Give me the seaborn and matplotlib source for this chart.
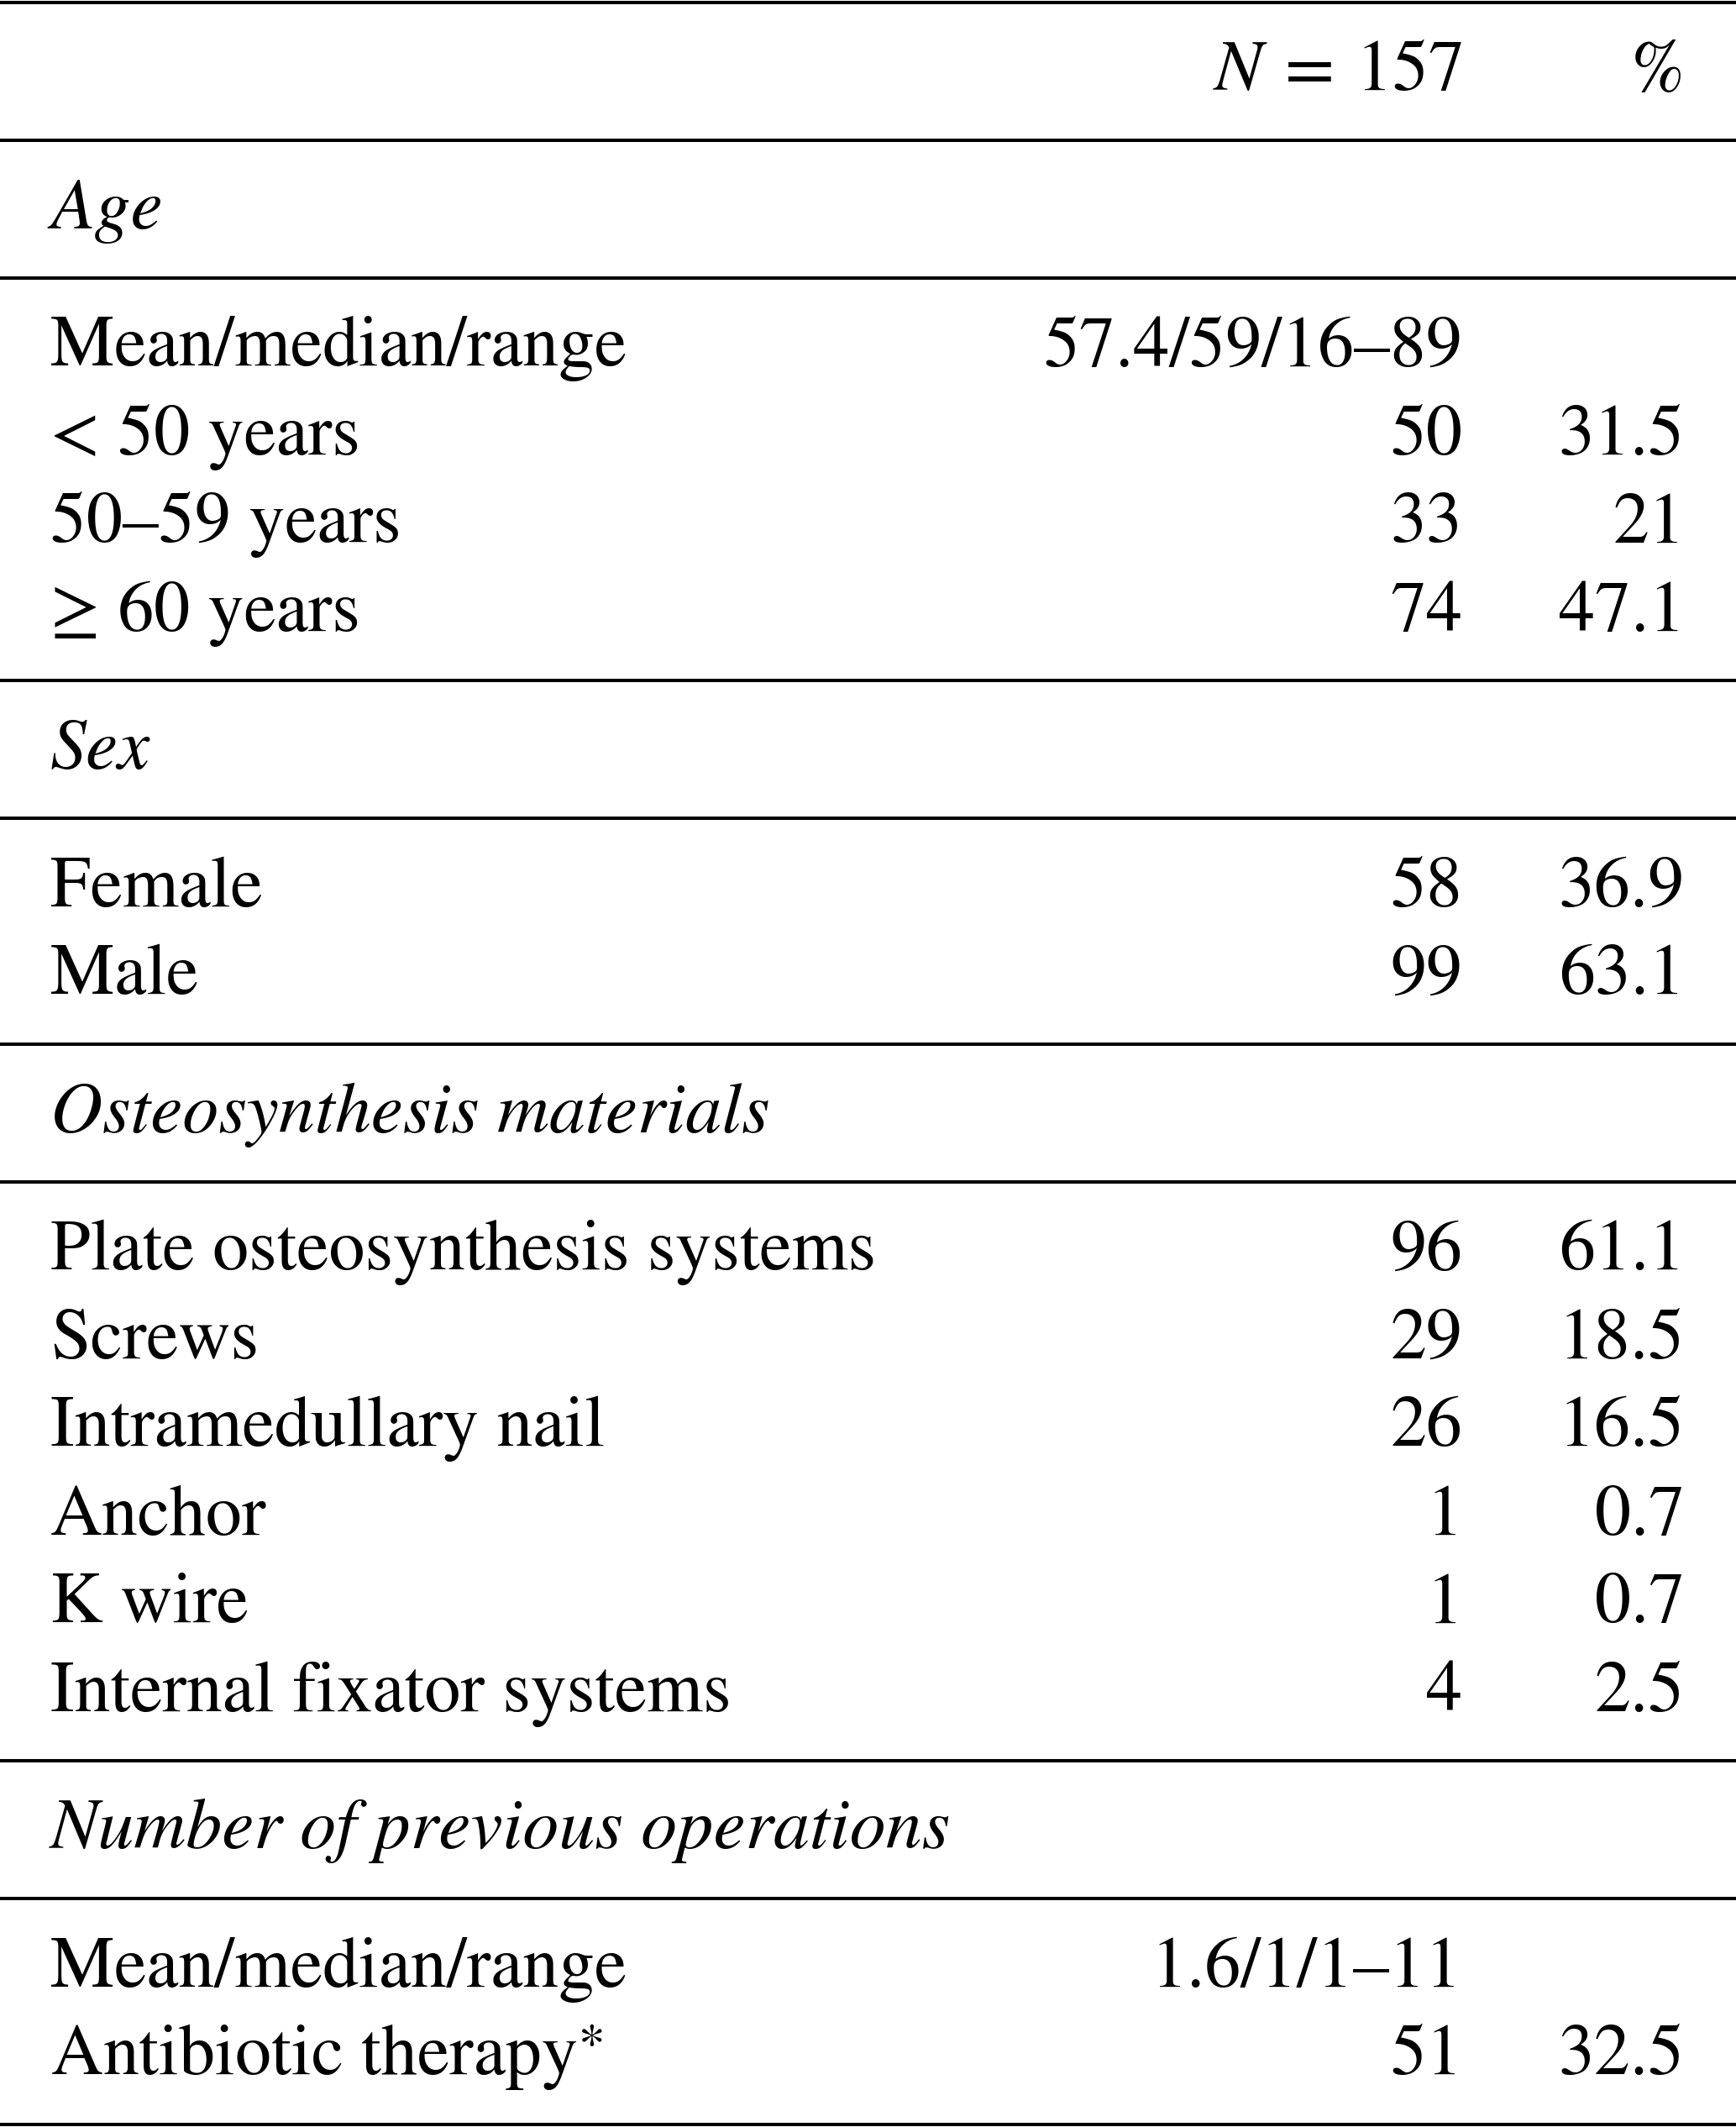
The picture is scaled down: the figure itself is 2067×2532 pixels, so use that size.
import matplotlib
matplotlib.use("Agg")
import matplotlib.pyplot as plt
import seaborn as sns

# ---- data ----
col_headers = [r"$N\:=\:157$", "%"]
sections = ["Age", "Sex", "Osteosynthesis materials", "Number of previous operations"]
row_labels = [
    ["Mean/median/range", "< 50 years", "50\u201359 years", "\u2265 60 years"],
    ["Female", "Male"],
    ["Plate osteosynthesis systems", "Screws", "Intramedullary nail", "Anchor",
     "K wire", "Internal fixator systems"],
    ["Mean/median/range", r"Antibiotic therapy$^{\ast}$"],
]
n_values = [
    ["57.4/59/16\u201389", "50", "33", "74"],
    ["58", "99"],
    ["96", "29", "26", "1", "1", "4"],
    ["1.6/1/1\u201311", "51"],
]
pct_values = [
    ["", "31.5", "21", "47.1"],
    ["36.9", "63.1"],
    ["61.1", "18.5", "16.5", "0.7", "0.7", "2.5"],
    ["", "32.5"],
]

# ---- style ----
sns.set_theme(style="white")
plt.rcParams["font.family"] = ["STIXGeneral", "Liberation Serif", "DejaVu Serif"]
plt.rcParams["mathtext.fontset"] = "stix"

W, H = 2067, 2532
fig = plt.figure(figsize=(W / 100, H / 100), dpi=100)
ax = fig.add_axes([0, 0, 1, 1])
ax.set_xlim(0, W)
ax.set_ylim(H, 0)
ax.axis("off")

FS = 61.8
LW = 2.9
x_left, x_n, x_pct = 60, 1741, 2006
line_to_base = 104.5
base_to_line = 59.5
row_step = 105.0

y = 3.0
ax.axhline(y, color="black", lw=LW)

def txt(x, yb, s, ha="left", style="normal"):
    ax.text(x, yb, s, ha=ha, va="baseline", fontsize=FS, fontstyle=style, color="black")

# header
yb = y + line_to_base
txt(x_n, yb, col_headers[0], ha="right")
txt(x_pct, yb, col_headers[1], ha="right")
y = yb + base_to_line
ax.axhline(y, color="black", lw=LW)

for sec, labels, nv, pv in zip(sections, row_labels, n_values, pct_values):
    yb = y + line_to_base
    txt(x_left, yb, sec, style="italic")
    y = yb + base_to_line
    ax.axhline(y, color="black", lw=LW)
    yb = y + line_to_base
    for i, (lab, n, p) in enumerate(zip(labels, nv, pv)):
        yy = yb + i * row_step
        txt(x_left, yy, lab)
        txt(x_n, yy, n, ha="right")
        if p:
            txt(x_pct, yy, p, ha="right")
    y = yb + (len(labels) - 1) * row_step + base_to_line
    ax.axhline(y, color="black", lw=LW)

fig.savefig("out.png", dpi=100, facecolor="white")
